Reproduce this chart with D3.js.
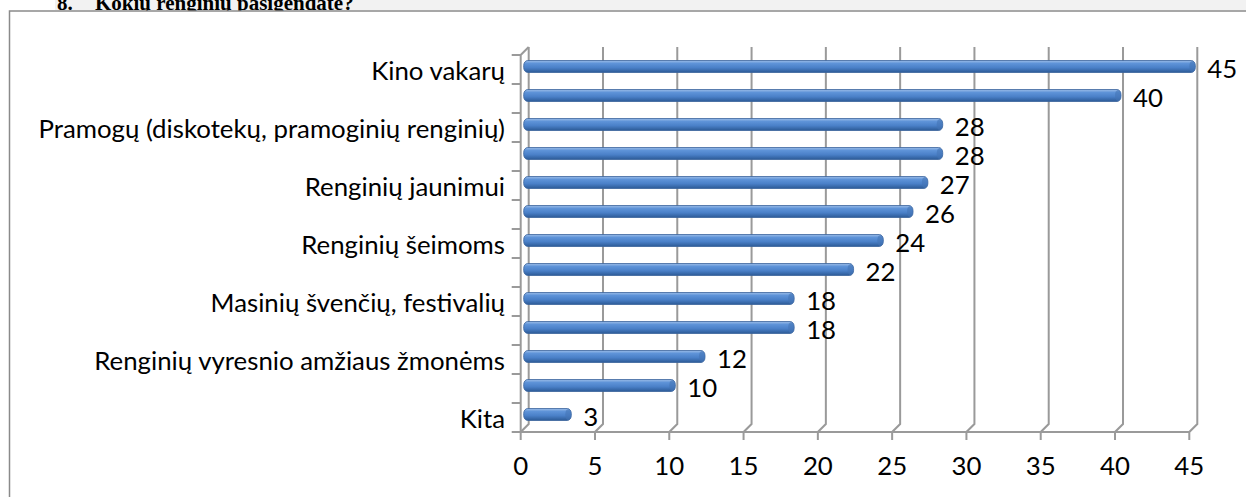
<!DOCTYPE html>
<html><head><meta charset="utf-8">
<script src="https://cdn.jsdelivr.net/npm/d3@7/dist/d3.min.js"></script>
<style>body{margin:0;background:#fff}svg{display:block}</style>
</head><body>
<svg id="c" width="1246" height="497"></svg>
<script>
const titleNum = "8.";
const title = "Kokių renginių pasigendate?";
const categories = ["Kino vakarų", "", "Pramogų (diskotekų, pramoginių renginių)", "", "Renginių jaunimui", "", "Renginių šeimoms", "", "Masinių švenčių, festivalių", "", "Renginių vyresnio amžiaus žmonėms", "", "Kita"];
const values = [45, 40, 28, 28, 27, 26, 24, 22, 18, 18, 12, 10, 3];
const xTicks = [0, 5, 10, 15, 20, 25, 30, 35, 40, 45];

const svg = d3.select("#c");
const font = "Lato, 'Open Sans', sans-serif";
const fs = 25.8;
const dx = 8, dy = 8;
const x = d3.scaleLinear().domain([0, 45]).range([520.7, 1189.3]);
const y = d3.scaleBand().domain(d3.range(categories.length)).range([55, 432]);

// title band
svg.append("rect").attr("x", 55).attr("y", 0).attr("width", 1191).attr("height", 10).attr("fill", "#f2f2f2");
const tf = "'Liberation Serif', 'Times New Roman', serif";
svg.append("text").attr("x", 57).attr("y", 10).attr("font-family", tf)
  .attr("font-weight", "bold").attr("font-size", 21).attr("fill", "#000").text(titleNum);
svg.append("text").attr("x", 95).attr("y", 10).attr("font-family", tf)
  .attr("font-weight", "bold").attr("font-size", 21).attr("fill", "#000").text(title);

// chart border
svg.append("rect").attr("x", 9.5).attr("y", 11).attr("width", 1300).attr("height", 600)
  .attr("fill", "#fff").attr("stroke", "#8a8a8a").attr("stroke-width", 1.5);

const grid = svg.append("g").attr("stroke", "#9a9a9a").attr("stroke-width", 2).attr("fill", "none");
const [y0, y1] = y.range();
xTicks.forEach(t => {
  const xf = x(t);
  grid.append("path").attr("d", `M${xf + dx},${y0 - dy}V${y1 - dy}L${xf},${y1}V${y1 + 8}`);
});
grid.append("path").attr("d", `M${x(0)},${y1}H${x(45)}`);
grid.append("path").attr("d", `M${x(0)},${y1}V${y0}L${x(0) + dx},${y0 - dy}`);
d3.range(categories.length + 1).forEach(i => {
  const yy = i < categories.length ? y(i) : y1;
  grid.append("path").attr("d", `M${x(0) - 9},${yy}H${x(0)}`);
});

const defs = svg.append("defs");
const g = defs.append("linearGradient").attr("id", "bar").attr("x1", 0).attr("y1", 0).attr("x2", 0).attr("y2", 1);
[[0, "#9cbde8"], [0.25, "#5e93d8"], [0.6, "#4a80c8"], [1, "#2c5a96"]].forEach(([o, c]) =>
  g.append("stop").attr("offset", o).attr("stop-color", c));

const bh = 12;
const bars = svg.append("g");
values.forEach((v, i) => {
  const cy = y(i) + y.bandwidth() / 2 - dy / 2 + 1;
  const xs = x(0) + 3, xe = x(v) + dx / 2 + 2;
  bars.append("rect").attr("x", xs).attr("y", cy - bh / 2).attr("width", xe - xs).attr("height", bh)
    .attr("rx", 4).attr("ry", 5).attr("fill", "url(#bar)").attr("stroke", "#3a639c").attr("stroke-width", 0.8);
  bars.append("ellipse").attr("cx", xe - 3).attr("cy", cy).attr("rx", 3).attr("ry", bh / 2 - 0.5)
    .attr("fill", "#4474b5").attr("opacity", 0.6);
  svg.append("text").attr("x", x(v) + dx / 2 + 14).attr("y", cy + 2).attr("dy", "0.36em")
    .attr("font-family", font).attr("font-size", fs).attr("fill", "#000").text(v);
});

categories.forEach((c, i) => {
  if (!c) return;
  svg.append("text").attr("x", 505).attr("y", y(i) + y.bandwidth() / 2 + 1).attr("dy", "0.36em")
    .attr("text-anchor", "end").attr("font-family", font).attr("font-size", fs).attr("fill", "#000").text(c);
});

xTicks.forEach(t => {
  svg.append("text").attr("x", x(t)).attr("y", 466).attr("dy", "0.36em").attr("text-anchor", "middle")
    .attr("font-family", font).attr("font-size", fs).attr("fill", "#000").text(t);
});
</script>
</body></html>
